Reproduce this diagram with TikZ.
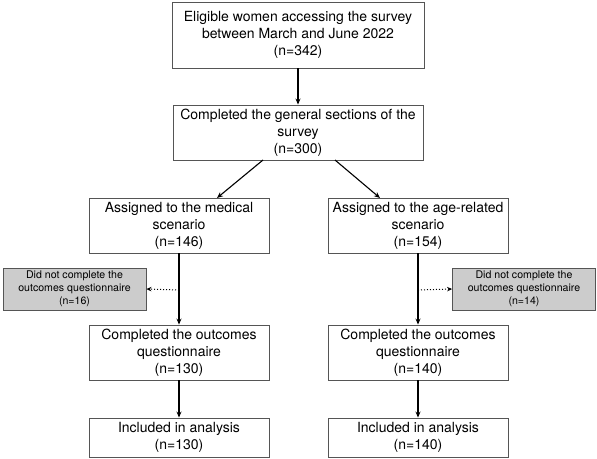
\documentclass[tikz,border=0pt]{standalone}
\usepackage{fontspec}
\setmainfont{TeX Gyre Heros}
\usetikzlibrary{arrows.meta}
\definecolor{boxline}{HTML}{555555}
\definecolor{greyfill}{HTML}{CCCCCC}
\begin{document}
\begin{tikzpicture}[x=1pt,y=-1pt,
  mainbox/.style={draw=boxline, line width=0.9pt, fill=white, align=center, inner sep=0pt,
    font=\fontsize{14}{17}\selectfont},
  greybox/.style={draw=boxline, line width=0.9pt, fill=greyfill, align=center, inner sep=0pt,
    minimum width=143pt, minimum height=42pt, font=\fontsize{10.6}{13.2}\selectfont},
  arr/.style={line width=1.1pt, -{Stealth[length=6pt,width=5pt]}},
  dotarr/.style={line width=1pt, dotted, -{Stealth[length=5pt,width=4.5pt]}}]
\useasboundingbox (0,0) rectangle (597,458);
\node[mainbox, minimum width=252pt, minimum height=66pt] (b1) at (298,35)
  {Eligible women accessing the survey\\between March and June 2022\\(n=342)};
\node[mainbox, minimum width=250pt, minimum height=55pt] (b2) at (298,132.5)
  {Completed the general sections of the\\survey\\(n=300)};
\node[mainbox, minimum width=180pt, minimum height=55pt] (b3l) at (179,225.5)
  {Assigned to the medical\\scenario\\(n=146)};
\node[mainbox, minimum width=180pt, minimum height=55pt] (b3r) at (418,225.5)
  {Assigned to the age-related\\scenario\\(n=154)};
\node[greybox] (gl) at (74.5,289)
  {Did not complete the\\outcomes questionnaire\\(n=16)};
\node[greybox] (gr) at (524,289)
  {Did not complete the\\outcomes questionnaire\\(n=14)};
\node[mainbox, minimum width=180pt, minimum height=55pt] (b4l) at (179,352.5)
  {Completed the outcomes\\questionnaire\\(n=130)};
\node[mainbox, minimum width=180pt, minimum height=55pt] (b4r) at (418,352.5)
  {Completed the outcomes\\questionnaire\\(n=140)};
\node[mainbox, minimum width=180pt, minimum height=39pt] (b5l) at (179,437.5)
  {Included in analysis\\(n=130)};
\node[mainbox, minimum width=180pt, minimum height=39pt] (b5r) at (418,437.5)
  {Included in analysis\\(n=140)};
\coordinate (s1) at (263,160);
\coordinate (s2) at (335,160);
\coordinate (t1) at (217,198);
\coordinate (t2) at (380,198);
\coordinate (dl) at (179,290);
\coordinate (dr) at (418,290);
\draw[arr] (b1.south) -- (b2.north);
\draw[arr] (s1) -- (t1);
\draw[arr] (s2) -- (t2);
\draw[arr] (b3l.south) -- (b4l.north);
\draw[arr] (b3r.south) -- (b4r.north);
\draw[arr] (b4l.south) -- (b5l.north);
\draw[arr] (b4r.south) -- (b5r.north);
\draw[dotarr] (dl) -- (gl.east);
\draw[dotarr] (dr) -- (gr.west);
\end{tikzpicture}
\end{document}
